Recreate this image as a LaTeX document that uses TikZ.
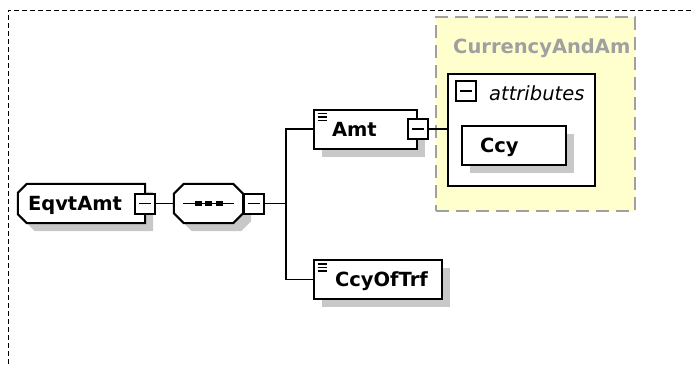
\documentclass[tikz,border=0pt]{standalone}
\usepackage{fontspec}
\setmainfont{DejaVu Sans}
\usepackage{tikz}
\usetikzlibrary{shadows,calc}
\usetikzlibrary{positioning,backgrounds}
\newcommand\diagfont{\fontsize{19.5}{23}\selectfont}
\definecolor{shadowgray}{RGB}{200,200,200}
\definecolor{typeyellow}{RGB}{255,255,206}
\definecolor{typegray}{RGB}{160,160,160}
\tikzset{
    boxshadow/.style={drop shadow={shadow xshift=8pt,shadow yshift=-8pt,fill=shadowgray,opacity=1}},
    elembox/.style={rectangle,draw=black,line width=2pt,fill=white,minimum height=39pt,inner ysep=0pt,text height=14pt,text depth=0pt,align=left,font=\diagfont\bfseries,boxshadow},
    simplebox/.style={elembox,path picture={\foreach \d in {4,7.5,11}{\draw[line width=1.5pt] ($(path picture bounding box.north west)+(3.5,\d)$) -- ++(9,0);}}},
    outline/.style={draw=black,line width=2pt,fill=white,boxshadow},
    togglebox/.style={rectangle,draw=black,line width=2pt,fill=white,minimum size=20pt,inner sep=0pt,path picture={\draw[line width=1.5pt] ($(path picture bounding box.center)+(-6,0)$) -- ++(12,0);}},
    conn/.style={line width=1.8pt},
}

\begin{document}
\begin{tikzpicture}[x=1pt,y=-1pt]
\useasboundingbox (0,0) rectangle (691,365);
\draw[line width=1pt,dash pattern=on 5pt off 3pt] (691,10) -| (8,365);
\node[rectangle,inner sep=0pt,minimum width=127pt,minimum height=39pt,text width=107pt,inner xsep=10pt,text height=14pt,text depth=0pt,align=left,font=\diagfont\bfseries](eqvt) at (81.5,203.5) {EqvtAmt};
\node[rectangle,inner sep=0pt,minimum width=69pt,minimum height=39pt](seq) at (208.5,203.5) {};
\begin{scope}[on background layer]
\draw[outline] ($(eqvt.north west)+(9,0)$) -- (eqvt.north east) -- (eqvt.south east) -- ($(eqvt.south west)+(9,0)$) -- ($(eqvt.south west)+(0,-9)$) -- ($(eqvt.north west)+(0,9)$) -- cycle;
\draw[outline] ($(seq.north west)+(10,0)$) -- ($(seq.north east)+(-10,0)$) -- ($(seq.north east)+(0,10)$) -- ($(seq.south east)+(0,-10)$) -- ($(seq.south east)+(-10,0)$) -- ($(seq.south west)+(10,0)$) -- ($(seq.south west)+(0,-10)$) -- ($(seq.north west)+(0,10)$) -- cycle;
\end{scope}
\draw[conn] ($(seq.west)+(9,0)$) -- ($(seq.east)+(-9,0)$);
\foreach \d in {-10.5,0,10.5}
  \fill ($(seq.center)+(\d,0)$) +(-3.5,-2.5) rectangle +(3.5,2.5);
\node[togglebox](eqvtm) at (eqvt.east) {};
\node[togglebox](seqm) [right=0pt of seq] {};
\node[rectangle,draw=typegray,line width=1.8pt,dash pattern=on 13pt off 7pt,fill=typeyellow,minimum width=199pt,minimum height=194pt](cur) at (535.5,114) {};
\begin{scope}
\clip (cur.north west) rectangle (cur.south east);
\node[anchor=base west,inner sep=0pt,text=typegray,font=\diagfont\bfseries](curtitle) at (453,53) {CurrencyAndAm};
\end{scope}
\node[rectangle,draw=black,line width=2pt,fill=white,minimum width=147pt,minimum height=112pt](attr) at (521.5,130) {};
\node[togglebox](attrm) at ($(attr.north west)+(19,18)$) {};
\node[anchor=base west,inner sep=0pt,font=\diagfont\itshape](attrtext) at (489,100) {attributes};
\node[elembox,minimum width=104pt,text width=68pt,inner xsep=18pt](ccy) at (514,145) {Ccy};
\node[simplebox,minimum width=103pt,text width=67pt,inner xsep=18pt](amt) at (365.5,129) {Amt};
\node[togglebox](amtm) at (amt.east) {};
\node[simplebox,minimum width=128pt,text width=86pt,inner xsep=21pt](ccyoftrf) at (378,279.5) {CcyOfTrf};
\draw[conn] (eqvtm.east) -- (seq.west);
\draw[conn] (seqm.east) -- ++(21,0) coordinate (fork);
\draw[conn] (fork) |- (amt.west);
\draw[conn] (fork) |- (ccyoftrf.west);
\draw[conn] (amtm.east) -- (amtm.east -| attr.west);
\end{tikzpicture}
\end{document}
